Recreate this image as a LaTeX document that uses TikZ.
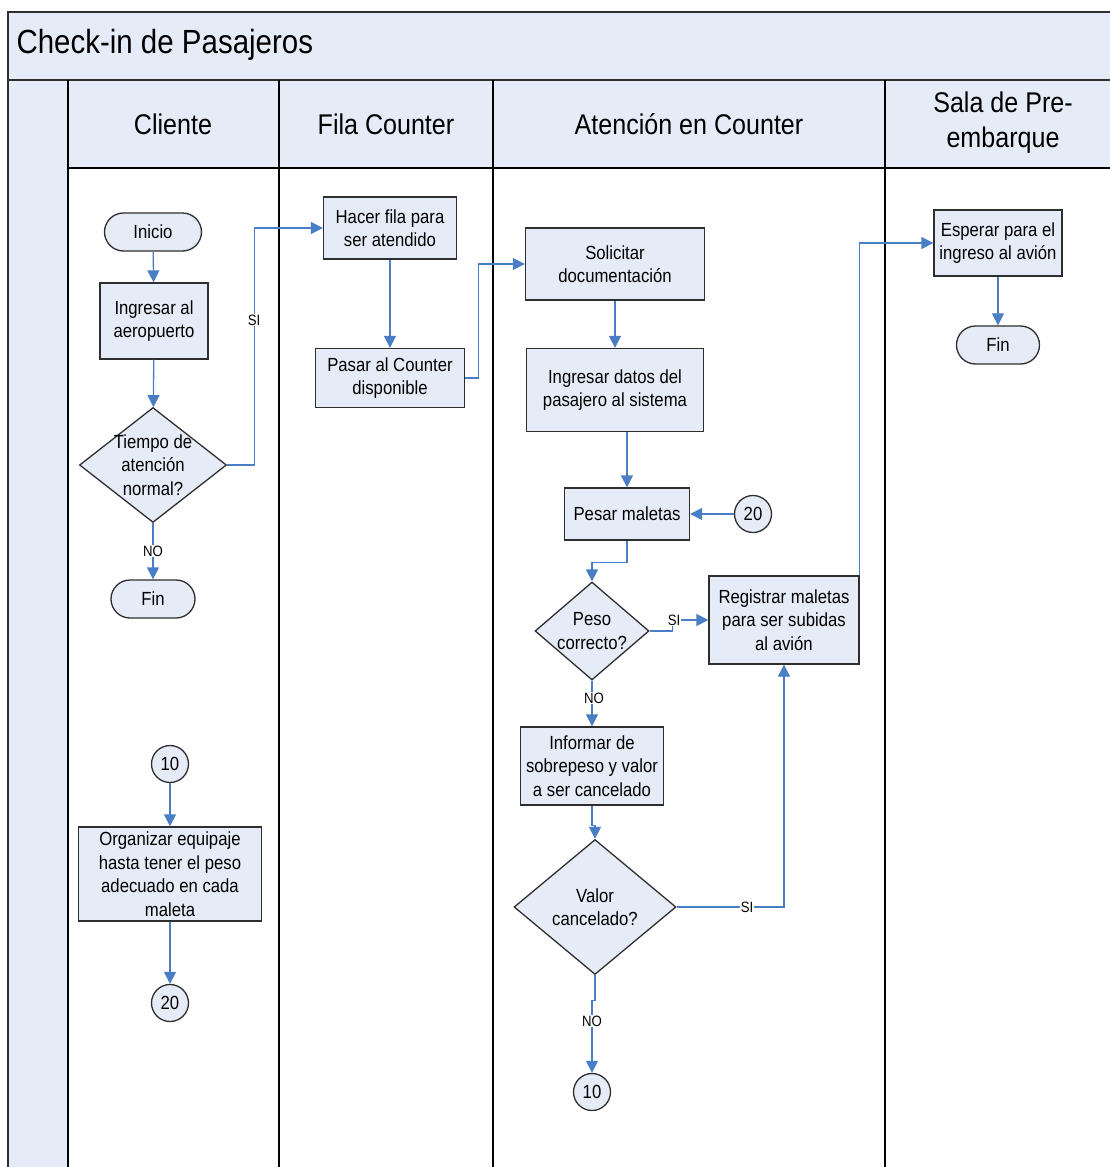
\documentclass[tikz,border=0pt]{standalone}
\usepackage{fontspec}
\setmainfont{Liberation Sans}[FakeStretch=0.88]
\usetikzlibrary{arrows.meta,shapes.geometric}

\definecolor{paneblue}{HTML}{E6ECF7}
\definecolor{flowblue}{HTML}{4A7EC4}
\definecolor{edgegray}{HTML}{2E2E2E}

\tikzset{
  basefont/.style={font=\fontsize{19}{23.5}\selectfont},
  procbox/.style={draw=edgegray, line width=1.3pt, fill=paneblue, basefont, align=center, inner sep=0pt},
  termbox/.style={procbox, rounded corners=19pt, minimum height=38pt},
  decision/.style={diamond, draw=edgegray, line width=1.3pt, fill=paneblue, inner sep=0pt},
  connector/.style={circle, draw=edgegray, line width=1.3pt, fill=paneblue, basefont, minimum size=37pt, inner sep=0pt},
  flow/.style={draw=flowblue, line width=1.3pt, -{Triangle[length=12pt,width=12pt]}},
  flowplain/.style={draw=flowblue, line width=1.3pt},
  lbl/.style={fill=white, inner sep=1pt, font=\fontsize{15}{17}\selectfont},
  lanehead/.style={font=\fontsize{28.5}{35}\selectfont, align=center},
  frame/.style={draw=edgegray, line width=2.2pt},
  divider/.style={draw=black, line width=1.4pt}
}

\begin{document}
\begin{tikzpicture}[x=1pt, y=-1pt]
\useasboundingbox (0,0) rectangle (1109,1167);

% pool background
\fill[paneblue] (8,12) rectangle (1115,80);
\fill[paneblue] (8,80) rectangle (68,1172);
\fill[paneblue] (68,80) rectangle (1115,168);

% pool and lane lines
\draw[frame] (8,1172) -- (8,12) -- (1115,12);
\draw[frame] (8,80) -- (1115,80);
\draw[divider] (68,168) -- (1115,168);
\draw[divider] (68,80) -- (68,1172);
\foreach \xx in {279,493,885} \draw[divider] (\xx,80) -- (\xx,1172);

% titles
\node[anchor=west, font=\fontsize{33.5}{40}\selectfont] (pooltitle) at (13,45) {Check-in de Pasajeros};
\node[lanehead] (h1) at (173,124) {Cliente};
\node[lanehead] (h2) at (386,124) {Fila Counter};
\node[lanehead] (h3) at (689,124) {Atención en Counter};
\node[lanehead] (h4) at (1003,123) {Sala de Pre-\\embarque};

% Cliente
\node[termbox, minimum width=97pt] (inicio) at (153,232) {Inicio};
\node[procbox, minimum width=108pt, minimum height=76pt] (ing) at (154,321) {Ingresar al\\aeropuerto};
\node[decision, minimum width=147pt, minimum height=115pt,
      label={[basefont, align=center]center:Tiempo de\\atención\\normal?}] (tiempo) at (153,465) {};
\node[termbox, minimum width=84pt] (fin1) at (153,599) {Fin};
\node[connector] (c10a) at (170,764) {10};
\node[procbox, minimum width=183pt, minimum height=94pt] (org) at (170,874) {Organizar equipaje\\hasta tener el peso\\adecuado en cada\\maleta};
\node[connector] (c20a) at (170,1003) {20};

% Fila Counter
\node[procbox, minimum width=133pt, minimum height=62pt] (hacer) at (390,228) {Hacer fila para\\ser atendido};
\node[procbox, minimum width=149pt, minimum height=59pt] (pasar) at (390,378) {Pasar al Counter\\disponible};

% Atencion en Counter
\node[procbox, minimum width=179pt, minimum height=72pt] (solic) at (615,264) {Solicitar\\documentación};
\node[procbox, minimum width=177pt, minimum height=83pt] (ingd) at (615,390) {Ingresar datos del\\pasajero al sistema};
\node[procbox, minimum width=125pt, minimum height=52pt] (pesar) at (627,514) {Pesar maletas};
\node[connector] (c20b) at (753,514) {20};
\node[decision, minimum width=114pt, minimum height=98pt,
      label={[basefont, align=center]center:Peso\\correcto?}] (peso) at (592,631) {};
\node[procbox, minimum width=150pt, minimum height=88pt] (reg) at (784,620) {Registrar maletas\\para ser subidas\\al avión};
\node[procbox, minimum width=143pt, minimum height=78pt] (inf) at (592,766) {Informar de\\sobrepeso y valor\\a ser cancelado};
\node[decision, minimum width=162pt, minimum height=135pt,
      label={[basefont, align=center]center:Valor\\cancelado?}] (valor) at (595,907) {};
\node[connector] (c10b) at (592,1092) {10};

% Sala de Pre-embarque
\node[procbox, minimum width=128pt, minimum height=66pt] (esp) at (998,243) {Esperar para el\\ingreso al avión};
\node[termbox, minimum width=83pt] (fin2) at (998,345) {Fin};

% flow connectors
\draw[flow] (inicio) -- (ing);
\draw[flow] (ing) -- (tiempo);
\draw[flow] (tiempo.east) -- ++(27,0) |- (hacer.west);
\node[lbl] (lsi1) at (254,320) {SI};
\draw[flow] (tiempo.south) -- (fin1.north);
\node[lbl] (lno1) at (153,551) {NO};
\draw[flow] (c10a) -- (org);
\draw[flow] (org) -- (c20a);

\draw[flow] (hacer) -- (pasar);
\draw[flow] (pasar.east) -- ++(13,0) |- (solic.west);

\draw[flow] (solic) -- (ingd);
\draw[flow] (ingd.south -| pesar.north) -- (pesar.north);
\draw[flow] (c20b) -- (pesar.east);
\draw[flow] (pesar.south) -- ++(0,22) -| (peso.north);
\draw[flow] (peso.east) -- ++(23,0) |- (reg.west);
\node[lbl] (lsi2) at (674,620) {SI};
\draw[flow] (peso.south) -- (inf.north);
\node[lbl] (lno2) at (594,698) {NO};
\draw[flow] (inf.south) -- ++(0,20) -| (valor.north);
\draw[flow] (valor.east) -| (reg.south);
\node[lbl] (lsi3) at (747,907) {SI};
\draw[flow] (valor.south) -- ++(0,25) -| (c10b.north);
\node[lbl] (lno3) at (592,1021) {NO};
\draw[flow] (reg.north east) |- (esp.west);

\draw[flow] (esp) -- (fin2);
\end{tikzpicture}
\end{document}
